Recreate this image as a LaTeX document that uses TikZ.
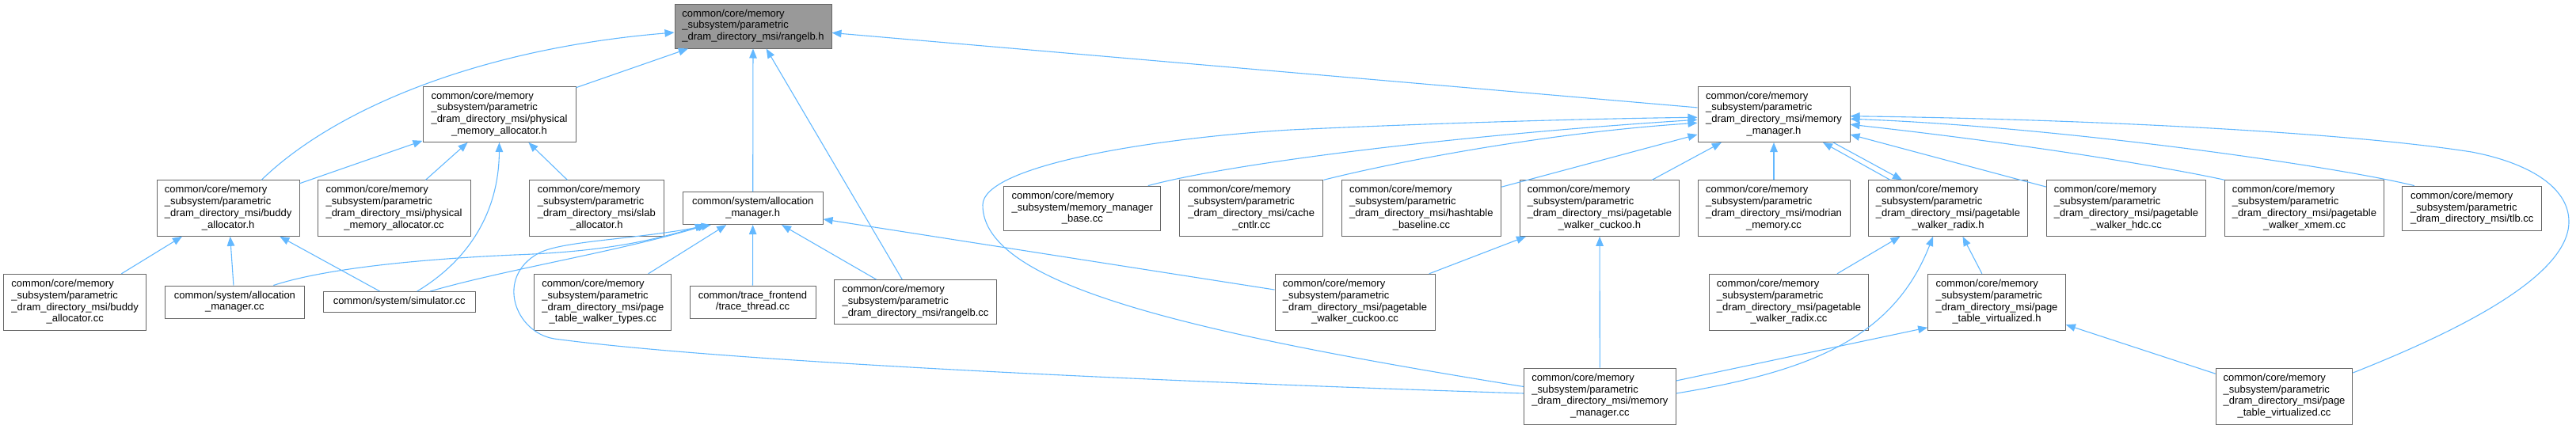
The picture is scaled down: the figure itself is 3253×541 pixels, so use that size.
\documentclass[tikz,border=0pt]{standalone}
\usepackage{fontspec}
\setmainfont{Liberation Sans}
\usetikzlibrary{arrows.meta,calc}
\definecolor{edgeblue}{HTML}{63B8FF}
\definecolor{boxgray}{HTML}{666666}
\definecolor{fillgray}{HTML}{999999}
\newcommand{\Lfour}[4]{\begin{tabular}{@{}l@{}}#1\\#2\\#3\\\multicolumn{1}{@{}c@{}}{#4}\end{tabular}}
\newcommand{\Lthree}[3]{\begin{tabular}{@{}l@{}}#1\\#2\\\multicolumn{1}{@{}c@{}}{#3}\end{tabular}}
\newcommand{\Ltwo}[2]{\begin{tabular}{@{}l@{}}#1\\\multicolumn{1}{@{}c@{}}{#2}\end{tabular}}
\newcommand{\ccm}{common/core/memory}
\newcommand{\ssp}{\_subsystem/parametric}
\newcommand{\ddm}{\_dram\_directory\_msi/}
\begin{document}
\begin{tikzpicture}[x=1pt,y=-1pt,
  box/.style={draw=boxgray, line width=1pt, fill=white, inner sep=0pt, text=black,
    font=\fontsize{13}{14.8}\selectfont},
  focus/.style={box, fill=fillgray},
  edge/.style={draw=edgeblue, line width=1.1pt, -{Triangle[length=12pt,width=9.5pt]}}]
\useasboundingbox (0,0) rectangle (3253,541);
% row 0
\node[focus, minimum width=198pt, minimum height=56pt] (rh) at (951,33) {\Lthree{\ccm}{\ssp}{\ddm rangelb.h}};
% row 1
\node[box, minimum width=193pt, minimum height=70.5pt] (pah) at (630.5,144.25) {\Lfour{\ccm}{\ssp}{\ddm physical}{\_memory\_allocator.h}};
\node[box, minimum width=192pt, minimum height=70.5pt] (mmh) at (2240,144.25) {\Lfour{\ccm}{\ssp}{\ddm memory}{\_manager.h}};
% row 2
\node[box, minimum width=180pt, minimum height=70.5pt] (bah) at (288.2,263.1) {\Lfour{\ccm}{\ssp}{\ddm buddy}{\_allocator.h}};
\node[box, minimum width=193pt, minimum height=70.5pt] (pacc) at (497.5,263.1) {\Lfour{\ccm}{\ssp}{\ddm physical}{\_memory\_allocator.cc}};
\node[box, minimum width=169.4pt, minimum height=70.5pt] (sah) at (753.4,263.1) {\Lfour{\ccm}{\ssp}{\ddm slab}{\_allocator.h}};
\node[box, minimum width=176.8pt, minimum height=41pt] (amh) at (950.7,263.1) {\Ltwo{common/system/allocation}{\_manager.h}};
\node[box, minimum width=198.3pt, minimum height=56pt] (mmbase) at (1366.8,263.1) {\Lthree{\ccm}{\_subsystem/memory\_manager}{\_base.cc}};
\node[box, minimum width=181.2pt, minimum height=70.5pt] (cache) at (1580.3,263.1) {\Lfour{\ccm}{\ssp}{\ddm cache}{\_cntlr.cc}};
\node[box, minimum width=201.7pt, minimum height=70.5pt] (hash) at (1794.9,263.1) {\Lfour{\ccm}{\ssp}{\ddm hashtable}{\_baseline.cc}};
\node[box, minimum width=201.7pt, minimum height=70.5pt] (cuh) at (2020,263.1) {\Lfour{\ccm}{\ssp}{\ddm pagetable}{\_walker\_cuckoo.h}};
\node[box, minimum width=192pt, minimum height=70.5pt] (modr) at (2240,263.1) {\Lfour{\ccm}{\ssp}{\ddm modrian}{\_memory.cc}};
\node[box, minimum width=201.7pt, minimum height=70.5pt] (rxh) at (2460,263.1) {\Lfour{\ccm}{\ssp}{\ddm pagetable}{\_walker\_radix.h}};
\node[box, minimum width=201.5pt, minimum height=70.5pt] (hdc) at (2685,263.1) {\Lfour{\ccm}{\ssp}{\ddm pagetable}{\_walker\_hdc.cc}};
\node[box, minimum width=200.3pt, minimum height=70.5pt] (xmem) at (2910,263.1) {\Lfour{\ccm}{\ssp}{\ddm pagetable}{\_walker\_xmem.cc}};
\node[box, minimum width=175.7pt, minimum height=56pt] (tlb) at (3121.8,263.1) {\Lthree{\ccm}{\ssp}{\ddm tlb.cc}};
% row 3
\node[box, minimum width=180.3pt, minimum height=71pt] (bacc) at (94.7,381.8) {\Lfour{\ccm}{\ssp}{\ddm buddy}{\_allocator.cc}};
\node[box, minimum width=176.8pt, minimum height=41pt] (amcc) at (296.4,381.5) {\Ltwo{common/system/allocation}{\_manager.cc}};
\node[box, minimum width=191.8pt, minimum height=26pt] (sim) at (504.2,381.5) {common/system/simulator.cc};
\node[box, minimum width=173.3pt, minimum height=71pt] (ptwt) at (761.3,381.8) {\Lfour{\ccm}{\ssp}{\ddm page}{\_table\_walker\_types.cc}};
\node[box, minimum width=159pt, minimum height=41pt] (trace) at (950.5,381.5) {\Ltwo{common/trace\_frontend}{/trace\_thread.cc}};
\node[box, minimum width=205pt, minimum height=56pt] (rlbcc) at (1156,381.6) {\Lthree{\ccm}{\ssp}{\ddm rangelb.cc}};
\node[box, minimum width=202pt, minimum height=71pt] (cucc) at (1711,381.8) {\Lfour{\ccm}{\ssp}{\ddm pagetable}{\_walker\_cuckoo.cc}};
\node[box, minimum width=201.2pt, minimum height=71pt] (rxcc) at (2259,381.8) {\Lfour{\ccm}{\ssp}{\ddm pagetable}{\_walker\_radix.cc}};
\node[box, minimum width=173.7pt, minimum height=71pt] (ptvh) at (2521.5,381.8) {\Lfour{\ccm}{\ssp}{\ddm page}{\_table\_virtualized.h}};
% row 4
\node[box, minimum width=191.8pt, minimum height=71pt] (mmcc) at (2020.4,500.5) {\Lfour{\ccm}{\ssp}{\ddm memory}{\_manager.cc}};
\node[box, minimum width=172.6pt, minimum height=71pt] (ptvcc) at (2884.5,500.5) {\Lfour{\ccm}{\ssp}{\ddm page}{\_table\_virtualized.cc}};
% edges into rangelb.h
\draw[edge] ($(bah.north)+(42,0)$) .. controls (420,140) and (600,62) .. ($(rh.west)+(0,8)$);
\draw[edge] (pah) -- (rh);
\draw[edge] (amh) -- (rh);
\draw[edge] (rlbcc) -- (rh);
\draw[edge] (mmh) -- (rh);
% edges into physical_memory_allocator.h
\draw[edge] (bah) -- (pah);
\draw[edge] (pacc) -- (pah);
\draw[edge] ($(sim.north)+(22.5,0)$) .. controls (590,330) and (630,270) .. (pah.south);
\draw[edge] (sah) -- (pah);
% edges into buddy_allocator.h
\draw[edge] (bacc) -- (bah);
\draw[edge] (amcc) -- (bah);
\draw[edge] (sim) -- (bah);
% edges into allocation_manager.h
\draw[edge] ($(amcc.north)+(49,0)$) .. controls (420,336) and (560,326) .. (650,322) .. controls (760,318) and (820,305) .. ($(amh.south west)+(28,0)$);
\draw[edge] ($(sim.north)+(39,0)$) .. controls (640,340) and (780,318) .. ($(amh.south west)+(31,0)$);
\draw[edge] ($(mmcc.west)+(0,-3.5)$) .. controls (1400,480) and (900,455) .. (700,428) .. controls (650,420) and (625,350) .. (680,320) .. controls (710,304) and (800,303) .. ($(amh.south west)+(36,0)$);
\draw[edge] (ptwt) -- (amh);
\draw[edge] (trace) -- (amh);
\draw[edge] (rlbcc) -- (amh);
\draw[edge] (cucc) -- (amh);
% edges into memory_manager.h
\draw[edge] ($(mmcc.west)+(0,-12)$) .. controls (1500,420) and (1241,360) .. (1241,259) .. controls (1241,210) and (1450,175) .. (1630,164) .. controls (1800,156) and (2000,150) .. ($(mmh.west)+(0,4)$);
\draw[edge] ($(mmbase.north)+(83,0)$) .. controls (1560,205) and (1850,170) .. ($(mmh.west)+(0,7)$);
\draw[edge] (cache.north east) .. controls (1760,205) and (1950,168) .. ($(mmh.west)+(0,11)$);
\draw[edge] (hash) -- (mmh);
\draw[edge] (cuh) -- (mmh);
\draw[edge] (modr) -- (mmh);
\draw[edge] ($(rxh.north)+(-73,0)$) -- ($(mmh.south)+(62,0)$);
\draw[edge] ($(mmh.south)+(75,0)$) -- ($(rxh.north)+(-58,0)$);
\draw[edge] (hdc) -- (mmh);
\draw[edge] (xmem.north west) .. controls (2740,212) and (2560,182) .. ($(mmh.east)+(0,13)$);
\draw[edge] ($(tlb.north)+(-73,0)$) .. controls (2950,210) and (2600,160) .. ($(mmh.east)+(0,6)$);
\draw[edge] ($(ptvcc.east)+(0,-29.5)$) .. controls (3100,420) and (3244,350) .. (3244,280) .. controls (3244,235) and (3190,205) .. (3121,192) .. controls (2950,165) and (2600,150) .. ($(mmh.east)+(0,2.5)$);
% edges into pagetable_walker_cuckoo.h
\draw[edge] (cucc) -- (cuh);
\draw[edge] (mmcc) -- (cuh);
% edges into pagetable_walker_radix.h
\draw[edge] (rxcc) -- (rxh);
\draw[edge] ($(mmcc.east)+(0,-3.5)$) .. controls (2280,470) and (2390,430) .. ($(rxh.south)+(-19,0)$);
\draw[edge] (ptvh) -- (rxh);
% edges into page_table_virtualized.h
\draw[edge] ($(mmcc.east)+(0,-19.5)$) -- ($(ptvh.west)+(0,32)$);
\draw[edge] (ptvcc) -- (ptvh);
\end{tikzpicture}
\end{document}
